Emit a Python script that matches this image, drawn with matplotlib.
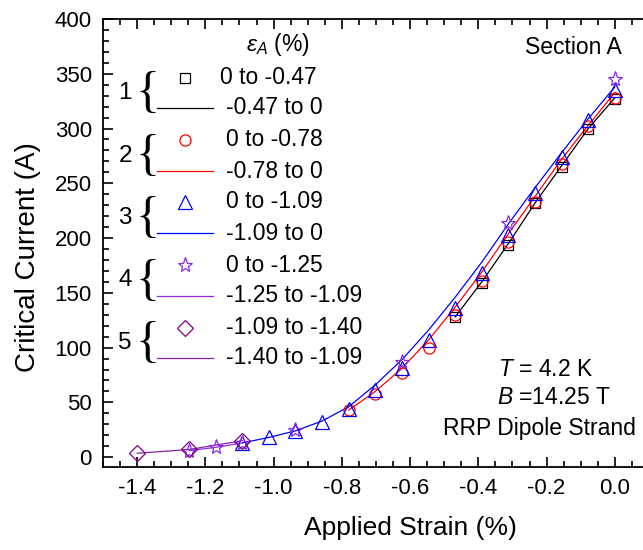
import matplotlib
matplotlib.use("Agg")
import matplotlib.pyplot as plt
from matplotlib.lines import Line2D
from matplotlib.ticker import MultipleLocator

plt.rcParams['font.family'] = ['Liberation Sans', 'DejaVu Sans']
plt.rcParams['mathtext.fontset'] = 'custom'
plt.rcParams['mathtext.it'] = 'Liberation Sans:italic'
plt.rcParams['mathtext.rm'] = 'Liberation Sans'

# ---- data ----
sq_x = [0.0, -0.078, -0.156, -0.234, -0.312, -0.39, -0.468]
sq_y = [327, 300, 265, 232, 194, 159, 128]
ln1_x = [-0.468, -0.39, -0.312, -0.234, -0.156, -0.078, 0.0]
ln1_y = [128, 160, 195, 232, 266, 300, 328]

circ_x = [0.0, -0.078, -0.156, -0.234, -0.312, -0.39, -0.468, -0.546, -0.624, -0.702, -0.78]
circ_y = [328, 302, 268, 233, 196, 161, 130, 100, 77, 58, 43]
ln2_x = [-0.78, -0.702, -0.624, -0.546, -0.468, -0.39, -0.312, -0.234, -0.156, -0.078, 0.0]
ln2_y = [43, 60, 81, 107, 137, 169, 204, 238, 272, 303, 333]

tri_x = [0.0, -0.078, -0.156, -0.234, -0.312, -0.39, -0.468, -0.546, -0.624, -0.702,
         -0.78, -0.858, -0.936, -1.014, -1.092]
tri_y = [335, 308, 274, 241, 203, 168, 136, 107, 81, 61, 44, 32, 24, 18, 13]
ln3_x = [-1.092, -1.014, -0.936, -0.858, -0.78, -0.702, -0.624, -0.546, -0.468, -0.39,
         -0.312, -0.234, -0.156, -0.078, 0.0]
ln3_y = [13, 18, 24, 33, 46, 66, 89, 116, 146, 178, 213, 246, 278, 309, 338]

star_x = [0.0, -0.312, -0.624, -0.936, -1.092, -1.168, -1.247]
star_y = [345, 214, 87, 25, 13, 9, 6]
ln4_x = [-1.247, -1.168, -1.092]
ln4_y = [6, 9, 13]

dia_x = [-1.092, -1.247, -1.40]
dia_y = [15, 7, 3.5]
ln5_x = [-1.40, -1.247, -1.092]
ln5_y = [3.5, 7, 15]

legend_nums = ['1', '2', '3', '4', '5']
legend_marker_labels = ['0 to -0.47', '0 to -0.78', '0 to -1.09', '0 to -1.25', '-1.09 to -1.40']
legend_line_labels = ['-0.47 to 0', '-0.78 to 0', '-1.09 to 0', '-1.25 to -1.09', '-1.40 to -1.09']

xticks = [-1.4, -1.2, -1.0, -0.8, -0.6, -0.4, -0.2, 0.0]
yticks = [0, 50, 100, 150, 200, 250, 300, 350, 400]

# ---- styles ----
c_black = '#000000'
c_red = '#ff0000'
c_blue = '#0000ff'
c_star = '#8a2be2'
c_star_line = '#8a2be2'
c_dia = '#800080'
c_dia_line = '#8b1fa8'

W, H = 643, 550
fig = plt.figure(figsize=(W / 100, H / 100), dpi=100)

def fx(p):
    return p / W

def fy(p):
    return 1 - p / H

ax_left, ax_right, ax_top, ax_bot = 103, 649, 19, 467
ax = fig.add_axes([fx(ax_left), fy(ax_bot), (ax_right - ax_left) / W, (ax_bot - ax_top) / H])
ax.set_xlim(-1.5, 0.1)
ax.set_ylim(-9, 400)

lw = 0.9
ms_kw = dict(markerfacecolor='none', markeredgewidth=0.9, linestyle='none')

ax.plot(ln1_x, ln1_y, color=c_black, lw=lw)
ax.plot(ln2_x, ln2_y, color=c_red, lw=lw)
ax.plot(ln3_x, ln3_y, color=c_blue, lw=lw)
ax.plot(ln4_x, ln4_y, color=c_star_line, lw=lw)
ax.plot(ln5_x, ln5_y, color=c_dia_line, lw=lw)

ax.plot(sq_x, sq_y, marker='s', markersize=7, markeredgecolor=c_black, **ms_kw)
ax.plot(circ_x, circ_y, marker='o', markersize=8, markeredgecolor=c_red, **ms_kw)
ax.plot(tri_x, tri_y, marker='^', markersize=10, markeredgecolor=c_blue, **ms_kw)
ax.plot(star_x, star_y, marker='*', markersize=11, markeredgecolor=c_star, **ms_kw)
ax.plot(dia_x, dia_y, marker='D', markersize=8, markeredgecolor=c_dia, **ms_kw)

ax.set_xticks(xticks)
ax.set_xticklabels([f'{t:.1f}' for t in xticks])
ax.set_yticks(yticks)
ax.xaxis.set_minor_locator(MultipleLocator(0.05))
ax.yaxis.set_minor_locator(MultipleLocator(10))
ax.tick_params(which='both', direction='in', top=True, right=False, labelsize=16, width=1.2)
ax.tick_params(which='major', length=7, pad=8)
ax.tick_params(which='minor', length=4)
for s in ['left', 'bottom', 'top']:
    ax.spines[s].set_linewidth(1.3)
ax.spines['right'].set_visible(False)

ax.set_xlabel('Applied Strain (%)', fontsize=19)
ax.xaxis.set_label_coords((410 - ax_left) / (ax_right - ax_left), -(528 - ax_bot) / (ax_bot - ax_top))
ax.xaxis.label.set_va('center')
ax.set_ylabel('Critical Current (A)', fontsize=20)
ax.yaxis.set_label_coords(-(ax_left - 28) / (ax_right - ax_left), (ax_bot - 257) / (ax_bot - ax_top))
ax.yaxis.label.set_va('center')

# ---- custom legend ----
fs = 16.5
fig.text(fx(278), fy(44), r'$\varepsilon_A$ (%)', fontsize=fs, ha='center', va='center')
markers = [('s', 7, c_black), ('o', 8, c_red), ('^', 10, c_blue), ('*', 11, c_star), ('D', 8, c_dia)]
line_cols = [c_black, c_red, c_blue, c_star_line, c_dia_line]
row_m = [78, 140, 202, 265, 328]
row_l = [108, 171, 233, 296, 358]
for i in range(5):
    mk, ms, col = markers[i]
    fig.add_artist(Line2D([fx(185)], [fy(row_m[i])], transform=fig.transFigure,
                          marker=mk, markersize=ms, markerfacecolor='none',
                          markeredgecolor=col, markeredgewidth=0.9, linestyle='none'))
    fig.add_artist(Line2D([fx(157), fx(213)], [fy(row_l[i]), fy(row_l[i])],
                          transform=fig.transFigure, color=line_cols[i], lw=lw))
    xt = 220 if i == 0 else 226
    fig.text(fx(xt), fy(row_m[i]), legend_marker_labels[i], fontsize=fs, ha='left', va='center')
    fig.text(fx(226), fy(row_l[i]), legend_line_labels[i], fontsize=fs, ha='left', va='center')
    ymid = (row_m[i] + row_l[i]) / 2
    fig.text(fx(125), fy(ymid), legend_nums[i], fontsize=17.5, ha='center', va='center')
    fig.text(fx(147), fy(ymid + 1), '{', fontsize=36, family='Liberation Serif',
             ha='center', va='center', fontweight='light')

# ---- annotations ----
fig.text(fx(573), fy(47), 'Section A', fontsize=fs, ha='center', va='center')
fig.text(fx(546), fy(370), r'$T$ = 4.2 K', fontsize=fs, ha='center', va='center')
fig.text(fx(554), fy(398), r'$B$ =14.25 T', fontsize=fs, ha='center', va='center')
fig.text(fx(539), fy(428), 'RRP Dipole Strand', fontsize=fs, ha='center', va='center')

fig.savefig('out.png', dpi=100)
